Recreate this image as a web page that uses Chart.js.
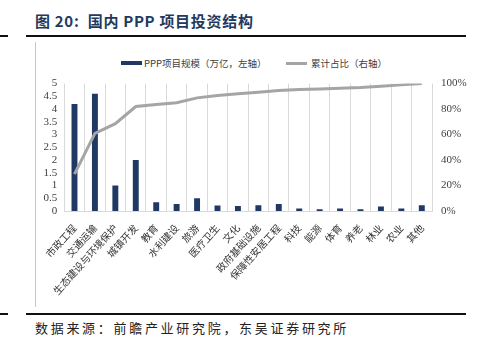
<!DOCTYPE html>
<html><head><meta charset="utf-8">
<script src="https://cdn.jsdelivr.net/npm/chart.js@4/dist/chart.umd.min.js"></script>
<style>
html,body{margin:0;padding:0;background:#fff;}
body{width:479px;height:343px;position:relative;overflow:hidden;font-family:"Noto Sans CJK SC",sans-serif;}
.abs{position:absolute;}
#title{left:35px;top:11px;font-size:15px;font-weight:bold;color:#1f3a5f;line-height:20px;white-space:nowrap;letter-spacing:0.7px;}
.rule{background:#111;}
#vline{left:35px;top:42px;width:1px;height:265px;background:#c8c8c8;}
#legend{top:56px;left:0;width:479px;height:14px;font-size:9.5px;color:#404040;}
.sw{position:absolute;}
.lt{position:absolute;top:0;line-height:14px;white-space:nowrap;}
#source{left:35px;top:319px;font-size:13px;color:#222;letter-spacing:2.7px;line-height:18px;white-space:nowrap;}
#wrap{left:36px;top:68px;width:440px;height:240px;}
canvas{display:block;}
</style></head>
<body>
<div id="title" class="abs">图 20:&nbsp; 国内 PPP 项目投资结构</div>
<div class="abs rule" style="left:26px;top:35px;width:440px;height:2px;"></div>
<div class="abs rule" style="left:0;top:35px;width:8px;height:1.5px;"></div>
<div id="vline" class="abs"></div>
<div id="legend" class="abs">
  <div class="sw" style="left:121px;top:5px;width:21px;height:4px;background:#1f3864;"></div>
  <div class="lt" style="left:144px;">PPP项目规模（万亿，左轴）</div>
  <div class="sw" style="left:286px;top:6px;width:21px;height:3px;background:#a5a5a5;"></div>
  <div class="lt" style="left:311px;">累计占比（右轴）</div>
</div>
<div id="wrap" class="abs"><canvas id="c" width="440" height="240"></canvas></div>
<div class="abs rule" style="left:26px;top:313px;width:440px;height:2px;"></div>
<div class="abs rule" style="left:0;top:313px;width:8px;height:1.5px;"></div>
<div id="source" class="abs">数据来源：前瞻产业研究院，东吴证券研究所</div>
<script>
const categories = ['市政工程','交通运输','生态建设与环境保护','城镇开发','教育','水利建设','旅游','医疗卫生','文化','政府基础设施','保障性安居工程','科技','能源','体育','养老','林业','农业','其他'];
const scaleValues = [4.2,4.6,1.0,2.0,0.34,0.27,0.5,0.22,0.2,0.23,0.27,0.1,0.07,0.1,0.07,0.18,0.1,0.23];
const cumulativePct = [29,61,68.5,82,83.6,85,88.8,90.6,92,93.2,94.5,95.3,95.8,96.3,96.9,97.9,99,100];
const leftTicks = [0,0.5,1,1.5,2,2.5,3,3.5,4,4.5,5];
const rightTicks = [0,20,40,60,80,100];

const tickFont = {family:'"Liberation Serif","Times New Roman",serif', size:11};
new Chart(document.getElementById('c'), {
  data: {
    labels: categories,
    datasets: [
      {type:'line', label:'累计占比（右轴）', data:cumulativePct, yAxisID:'y1',
       borderColor:'#a5a5a5', borderWidth:3, pointRadius:0, tension:0, order:0},
      {type:'bar', label:'PPP项目规模（万亿，左轴）', data:scaleValues, yAxisID:'y',
       backgroundColor:'#1f3864', barPercentage:0.29, categoryPercentage:1, order:1}
    ]
  },
  options: {
    responsive:false, animation:false,
    layout:{padding:{top:0,left:0,right:0,bottom:0}},
    plugins:{legend:{display:false}, tooltip:{enabled:false}},
    scales:{
      x:{
        grid:{display:true, color:'#d9d9d9', offset:true, drawTicks:false},
        border:{display:true, color:'#d9d9d9'},
        ticks:{autoSkip:false, maxRotation:48, minRotation:48, padding:11, color:'#333',
               font:{family:'"Noto Sans CJK SC",sans-serif', size:10}},
        afterFit:(s)=>{s.height=97;}
      },
      y:{
        position:'left', min:0, max:5,
        grid:{display:false, drawTicks:false}, border:{display:false},
        afterBuildTicks:(s)=>{s.ticks=leftTicks.map(v=>({value:v}));},
        ticks:{autoSkip:false, padding:7, color:'#404040', font:tickFont, callback:(v)=>String(v)},
        afterFit:(s)=>{s.width=26;}
      },
      y1:{
        position:'right', min:0, max:100,
        grid:{display:false, drawTicks:false}, border:{display:false},
        afterBuildTicks:(s)=>{s.ticks=rightTicks.map(v=>({value:v}));},
        ticks:{autoSkip:false, padding:9, color:'#404040', font:tickFont, callback:(v)=>v+'%'},
        afterFit:(s)=>{s.width=44;}
      }
    }
  }
});
</script>
</body></html>
